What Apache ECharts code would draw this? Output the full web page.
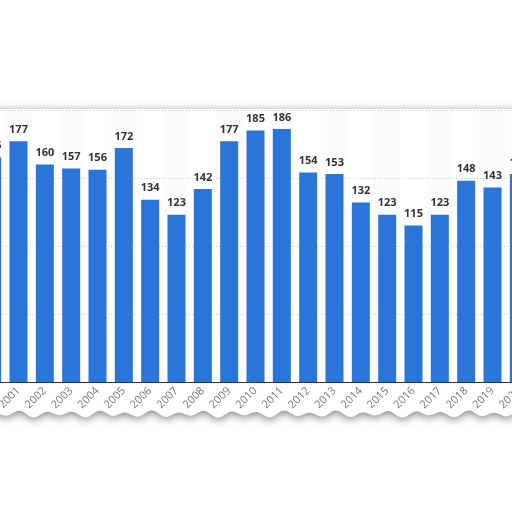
<!DOCTYPE html>
<html lang="en">
<head>
    <meta charset="UTF-8">
    <script src="https://cdn.jsdelivr.net/npm/echarts@6/dist/echarts.min.js"></script>
</head>
<style>
    html, body {
        margin: 0;
        width: 100%;
        height: 100%;
        overflow: hidden;
        background: #fff;
    }

    /* the chart is wider than the window: first and last bar are cut off */
    #main {
        position: absolute;
        left: -21px;
        top: 0;
        width: 553px;
        height: 512px;
    }
</style>
<body>

<div id="main"></div>

<script type="text/javascript">
    // data
    const years = ['2000', '2001', '2002', '2003', '2004', '2005', '2006', '2007', '2008', '2009', '2010',
        '2011', '2012', '2013', '2014', '2015', '2016', '2017', '2018', '2019', '2020'];
    const values = [165, 177, 160, 157, 156, 172, 134, 123, 142, 177, 185,
        186, 154, 153, 132, 123, 115, 123, 148, 143, 153];
    const yMin = 0;
    const yMax = 200;
    const yStep = 50;

    let myEcharts = echarts.init(document.getElementById('main'));

    // torn paper sheet behind the plot
    let paper = [[-10, 109], [563, 109]];
    for (let x = 563; x >= -10; x -= 3) {
        paper.push([x, 414 + 2.5 * Math.sin(x / 26.35 * 2 * Math.PI + 1.2) + 1.2 * Math.sin(x / 7.3)]);
    }

    let option = {
        animation: false,
        backgroundColor: '#fff',
        graphic: [
            {
                type: 'polygon',
                z: -10,
                silent: true,
                shape: {points: paper},
                style: {
                    fill: '#fff',
                    shadowBlur: 9,
                    shadowColor: 'rgba(0,0,0,0.5)',
                    shadowOffsetY: 2
                }
            }
        ],
        grid: {
            left: 0,
            right: 0,
            top: 110,
            bottom: 130,
            outerBoundsMode: 'none'
        },
        xAxis: {
            type: 'category',
            data: years,
            axisLine: {lineStyle: {color: '#333', width: 1}},
            axisTick: {show: false},
            splitArea: {
                show: true,
                areaStyle: {color: ['rgba(0,0,0,0)', 'rgba(0,0,0,0.012)']}
            },
            axisLabel: {
                interval: 0,
                rotate: 45,
                margin: 7,
                color: '#777',
                fontSize: 11,
                fontFamily: 'Open Sans'
            }
        },
        yAxis: {
            type: 'value',
            min: yMin,
            max: yMax,
            interval: yStep,
            axisLabel: {show: false},
            axisLine: {show: false},
            axisTick: {show: false},
            splitLine: {lineStyle: {color: '#c8c8c8', type: [1, 2]}}
        },
        series: [
            {
                type: 'bar',
                data: values,
                barWidth: 18,
                itemStyle: {color: '#2a75d9'},
                label: {
                    show: true,
                    position: 'top',
                    distance: 6,
                    color: '#333',
                    fontSize: 11,
                    fontWeight: 'bold',
                    fontFamily: 'Open Sans'
                }
            }
        ]
    };

    myEcharts.setOption(option);
</script>
</body>
</html>
